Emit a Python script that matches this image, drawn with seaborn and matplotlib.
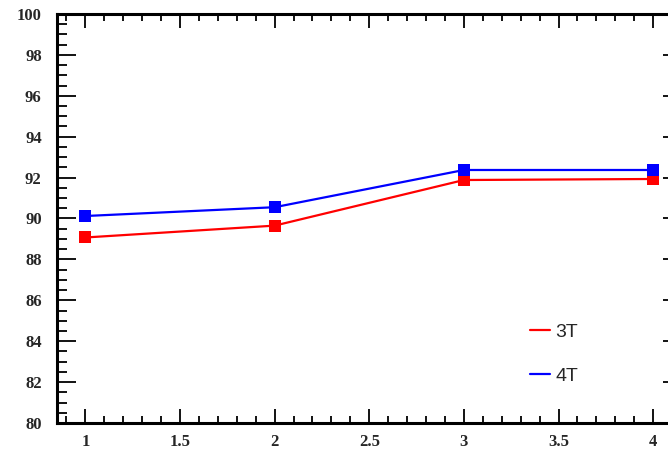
import matplotlib
matplotlib.use("Agg")
import matplotlib.pyplot as plt
from matplotlib.lines import Line2D
from matplotlib.ticker import MultipleLocator
import seaborn as sns
import pandas as pd

# Measurements for the two field configurations
x_points = [1, 2, 3, 4]
vals_3t = [89.07, 89.65, 91.88, 91.93]
vals_4t = [90.12, 90.55, 92.37, 92.37]
series_names = ["3T", "4T"]
series_colors = {"3T": "#ff0000", "4T": "#0000ff"}

df = pd.DataFrame({
    "x": x_points * 2,
    "value": vals_3t + vals_4t,
    "series": ["3T"] * len(x_points) + ["4T"] * len(x_points),
})

sns.set_theme(style="white")
plt.rcParams["font.family"] = ["Liberation Serif", "DejaVu Serif"]

fig = plt.figure(figsize=(6.68, 4.51), dpi=100)
ax = fig.add_axes([0.0853, 0.0621, 0.935, 0.907])

sns.lineplot(
    data=df, x="x", y="value", hue="series", hue_order=series_names,
    palette=series_colors, marker="s", markersize=9, markeredgewidth=0,
    linewidth=1.6, legend=False, ax=ax, clip_on=False,
)

ax.set_xlim(0.85, 4.15)
ax.set_ylim(80, 100)
ax.set_xlabel("")
ax.set_ylabel("")

ax.xaxis.set_major_locator(MultipleLocator(0.5))
ax.xaxis.set_minor_locator(MultipleLocator(0.1))
ax.yaxis.set_major_locator(MultipleLocator(2))
ax.yaxis.set_minor_locator(MultipleLocator(0.5))
ax.set_xticks([1, 1.5, 2, 2.5, 3, 3.5, 4])
ax.set_xticklabels(["1", "1.5", "2", "2.5", "3", "3.5", "4"])

for side in ["left", "bottom", "top", "right"]:
    ax.spines[side].set_color("black")
    ax.spines[side].set_linewidth(2.2)

ax.tick_params(axis="both", which="both", direction="in", color="black",
               top=True, right=True, bottom=True, left=True)
ax.tick_params(axis="x", which="major", length=10, width=1.3, pad=8,
               labelsize=12)
ax.tick_params(axis="x", which="minor", length=5, width=1.3)
ax.tick_params(axis="y", which="major", length=14, width=1.3, pad=11,
               labelsize=12)
ax.tick_params(axis="y", which="minor", length=7, width=1.3)
for lbl in ax.get_xticklabels() + ax.get_yticklabels():
    lbl.set_fontweight("bold")

handles = [Line2D([0], [0], color=series_colors[s], linewidth=1.6)
           for s in series_names]
leg = ax.legend(handles, series_names, loc="upper left",
                bbox_to_anchor=(0.73, 0.287), frameon=False,
                handlelength=1.0, handletextpad=0.3, labelspacing=1.35,
                prop={"family": ["Liberation Sans", "DejaVu Sans"], "size": 14})

fig.savefig("out.png", dpi=100)
